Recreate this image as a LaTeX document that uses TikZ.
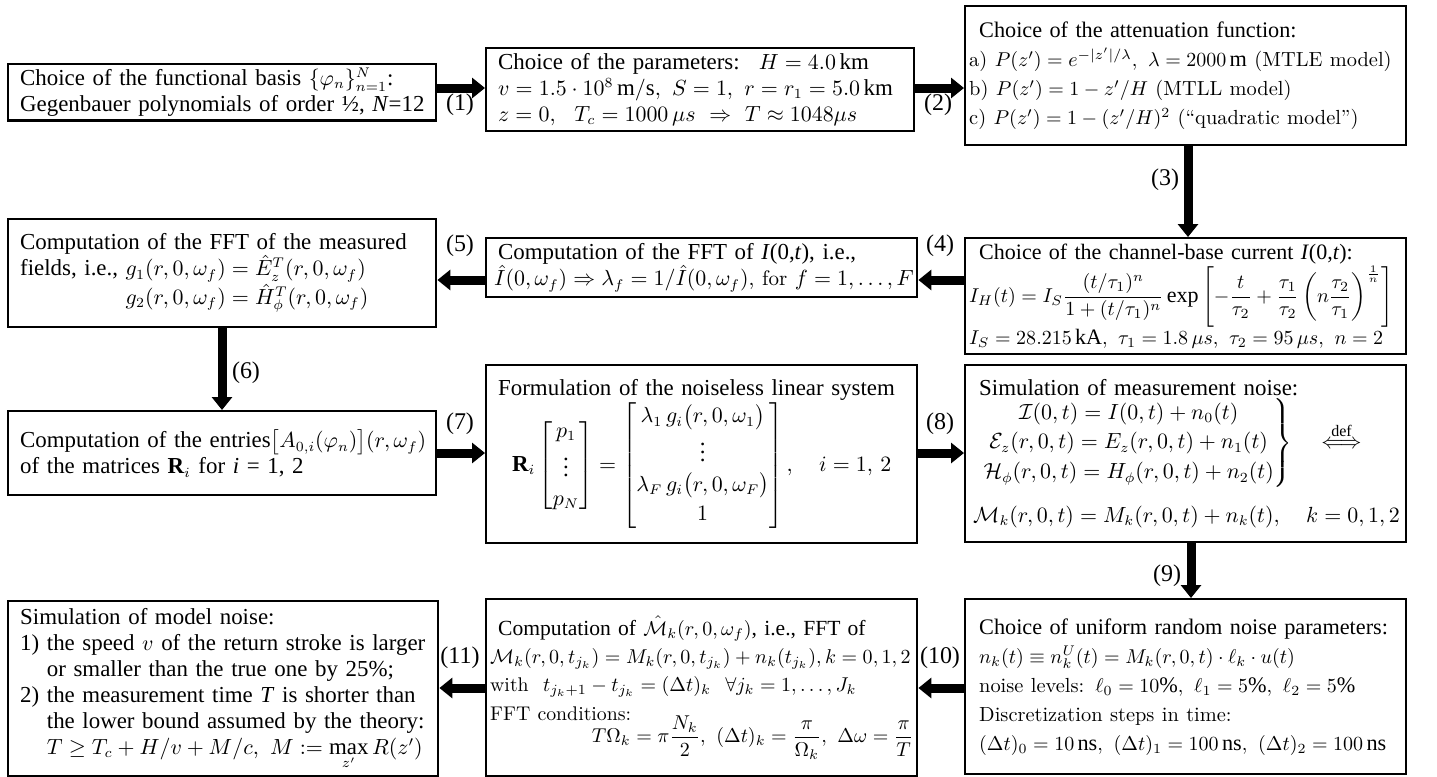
\documentclass[tikz,border=0pt]{standalone}
\usepackage{amsmath,amssymb}
\usepackage{fontspec}
\setmainfont[Scale=1.09]{Liberation Serif}
\newfontfamily\cmr{Latin Modern Roman}
\usetikzlibrary{arrows.meta}
\begin{document}
\begin{tikzpicture}[x=0.5pt,y=-0.5pt,
  box/.style={draw, line width=1.2pt, anchor=north west, inner xsep=4pt, inner ysep=2pt, align=left, font=\fontsize{10.5}{13}\selectfont},
  arr/.style={line width=4.5pt, -{Triangle[width=10pt,length=6.5pt]}},
  lab/.style={font=\fontsize{11}{13}\selectfont, inner sep=0pt}]
\useasboundingbox (0,0) rectangle (1437,777);

% Row 1
\node[box, text width=206pt, minimum height=28pt] (b1) at (7,63)
 {\hspace*{2pt}Choice of the functional basis $\{\varphi_n\}_{n=1}^N$:\\
  \hspace*{2pt}Gegenbauer polynomials of order ½, \textit{N}=12};
\node[box, text width=206pt, minimum height=41.5pt] (b2) at (485,47)
 {\hspace*{2pt}Choice of the parameters: \ $H=4.0\,\mathrm{km}$\\
  \mbox{\hspace*{2pt}$v=1.5\cdot10^8\,\mathrm{m/s},\ S=1,\ r=r_1=5.0\,\mathrm{km}$}\\
  \mbox{\hspace*{2pt}$z=0,\ \ T_c=1000\,\mu s\ \Rightarrow\ T\approx1048\mu s$}};
\node[box, text width=216.5pt, minimum height=69.5pt, inner xsep=2pt, font=\fontsize{10.2}{14.5}\selectfont] (b3) at (964,5)
 {\hspace*{5pt}Choice of the attenuation function:\\
  \mbox{{\cmr a) }$P(z')=e^{-|z'|/\lambda},\ \lambda=2000\,\mathrm{m}$ {\cmr (MTLE model)}}\\
  \mbox{{\cmr b) }$P(z')=1-z'/H$ {\cmr (MTLL model)}}\\
  \mbox{{\cmr c) }$P(z')=1-(z'/H)^2$ {\cmr (“quadratic model”)}}};

% Row 2
\node[box, text width=216.5pt, minimum height=58pt, inner xsep=2pt, font=\fontsize{10.1}{13}\selectfont] (b6) at (964,237)
 {\hspace*{5pt}Choice of the channel-base current \textit{I}(0,\textit{t}):\\
  \mbox{$I_H(t)=I_S\dfrac{(t/\tau_1)^n}{1+(t/\tau_1)^n}\exp\left[-\dfrac{t}{\tau_2}+\dfrac{\tau_1}{\tau_2}\left(n\dfrac{\tau_2}{\tau_1}\right)^{\frac{1}{n}}\right]$}\\
  \mbox{$I_S=28.215\,\mathrm{kA},\ \tau_1=1.8\,\mu s,\ \tau_2=95\,\mu s,\ n=2$}};
\node[box, text width=207.5pt, minimum height=29.5pt] (b5) at (485,237)
 {\hspace*{2pt}Computation of the FFT of \textit{I}(0,\textit{t}), i.e.,\\
  \mbox{$\hat I(0,\omega_f)\Rightarrow\lambda_f=1/\hat I(0,\omega_f)${\cmr , for }$f=1,\ldots,F$}};
\node[box, text width=206pt, minimum height=54pt] (b4) at (7,218)
 {\hspace*{2pt}Computation of the FFT of the measured\\
  \mbox{\hspace*{2pt}fields, i.e., $g_1(r,0,\omega_f)=\hat E_z^T(r,0,\omega_f)$}\\
  \mbox{\hspace*{2pt}\phantom{fields, i.e., }$g_2(r,0,\omega_f)=\hat H_\phi^T(r,0,\omega_f)$}};

% Row 3
\node[box, text width=206pt, minimum height=42pt] (b7) at (7,410)
 {\mbox{\hspace*{2pt}Computation of the entries$\bigl[A_{0,i}(\varphi_n)\bigr](r,\omega_f)$}\\
  \hspace*{2pt}of the matrices $\mathbf{R}_i$ for \textit{i} = 1, 2};
\node[box, text width=207.5pt, minimum height=89pt] (b8) at (485,364)
 {\hspace*{2pt}Formulation of the noiseless linear system\\
  \makebox[\hsize]{\renewcommand\arraystretch{1.12}$\mathbf{R}_i\begin{bmatrix}p_1\\ \vdots\\ p_N\end{bmatrix}=\begin{bmatrix}\lambda_1\,g_i\bigl(r,0,\omega_1\bigr)\\ \vdots\\ \lambda_F\,g_i\bigl(r,0,\omega_F\bigr)\\ 1\end{bmatrix},\quad i=1,\,2$}};
\node[box, text width=216.5pt, minimum height=88.5pt, inner xsep=2pt] (b9) at (964,364)
 {\hspace*{5pt}Simulation of measurement noise:\\
  \makebox[\hsize][l]{\hspace{6pt}\renewcommand\arraystretch{1.15}$\left.\begin{array}{@{}c@{}}\mathcal{I}(0,t)=I(0,t)+n_0(t)\\ \mathcal{E}_z(r,0,t)=E_z(r,0,t)+n_1(t)\\ \mathcal{H}_\phi(r,0,t)=H_\phi(r,0,t)+n_2(t)\end{array}\right\}\quad\stackrel{\mathrm{def}}{\Longleftrightarrow}$}\\[8pt]
  \mbox{\hspace*{2pt}$\mathcal{M}_k(r,0,t)=M_k(r,0,t)+n_k(t),\quad k=0,1,2$}};

% Row 4
\node[box, text width=216.5pt, minimum height=87.5pt, inner xsep=2pt, font=\fontsize{10.2}{14.5}\selectfont] (b12) at (964,598)
 {\hspace*{5pt}Choice of uniform random noise parameters:\\
  \mbox{\hspace*{5pt}$n_k(t)\equiv n_k^U(t)=M_k(r,0,t)\cdot\ell_k\cdot u(t)$}\\
  \mbox{\hspace*{5pt}{\cmr noise levels: }$\ell_0=10\%,\ \ell_1=5\%,\ \ell_2=5\%$}\\
  \hspace*{5pt}{\cmr Discretization steps in time:}\\
  \mbox{\hspace*{5pt}$(\Delta t)_0=10\,\mathrm{ns},\ (\Delta t)_1=100\,\mathrm{ns},\ (\Delta t)_2=100\,\mathrm{ns}$}};
\node[box, text width=211.5pt, minimum height=88.5pt, inner xsep=2pt, font=\fontsize{9.9}{14.2}\selectfont] (b11) at (485,598)
 {\hspace*{4pt}Computation of $\hat{\mathcal{M}}_k(r,0,\omega_f)$, i.e., FFT of\\
  \mbox{$\mathcal{M}_k(r,0,t_{j_k})=M_k(r,0,t_{j_k})+n_k(t_{j_k}),k=0,1,2$}\\
  \mbox{{\cmr with} \ $t_{j_k+1}-t_{j_k}=(\Delta t)_k\ \ \forall j_k=1,\ldots,J_k$}\\
  {\cmr FFT conditions:}\\[-3pt]
  \makebox[\hsize][r]{$T\Omega_k=\pi\dfrac{N_k}{2},\ (\Delta t)_k=\dfrac{\pi}{\Omega_k},\ \Delta\omega=\dfrac{\pi}{T}$}};
\node[box, text width=207pt, minimum height=87.5pt] (b10) at (7,600)
 {\hspace*{2pt}Simulation of model noise:\\
  \hspace*{2pt}1) the speed $v$ of the return stroke is larger\\
  \hspace*{2pt}\phantom{1) }or smaller than the true one by 25\%;\\
  \hspace*{2pt}2) the measurement time \textit{T} is shorter than\\
  \hspace*{2pt}\phantom{2) }the lower bound assumed by the theory:\\
  \mbox{\hspace*{2pt}\phantom{2) }$T\geq T_c+H/v+M/c,\ M:=\max\limits_{z'}R(z')$}};

% Arrows
\draw[arr] (b1.east |- 0,88) -- (b2.west |- 0,88);
\draw[arr] (b2.east |- 0,88) -- (b3.west |- 0,88);
\draw[arr] (b3.south -| 1188,0) -- (b6.north -| 1188,0);
\draw[arr] (b6.west |- 0,280) -- (b5.east |- 0,280);
\draw[arr] (b5.west |- 0,280) -- (b4.east |- 0,280);
\draw[arr] (b4.south -| 222,0) -- (b7.north -| 222,0);
\draw[arr] (b7.east |- 0,453) -- (b8.west |- 0,453);
\draw[arr] (b8.east |- 0,453) -- (b9.west |- 0,453);
\draw[arr] (b9.south -| 1191,0) -- (b12.north -| 1191,0);
\draw[arr] (b12.west |- 0,688) -- (b11.east |- 0,688);
\draw[arr] (b11.west |- 0,688) -- (b10.east |- 0,688);

% Labels
\node[lab] (l1) at (460,105) {(1)};
\node[lab] (l2) at (938,105) {(2)};
\node[lab] (l3) at (1165,180) {(3)};
\node[lab] (l4) at (940,246) {(4)};
\node[lab] (l5) at (460,246) {(5)};
\node[lab] (l6) at (246,373) {(6)};
\node[lab] (l7) at (460,424) {(7)};
\node[lab] (l8) at (940,424) {(8)};
\node[lab] (l9) at (1167,576) {(9)};
\node[lab] (l10) at (940,658) {(10)};
\node[lab] (l11) at (460,658) {(11)};
\end{tikzpicture}
\end{document}
